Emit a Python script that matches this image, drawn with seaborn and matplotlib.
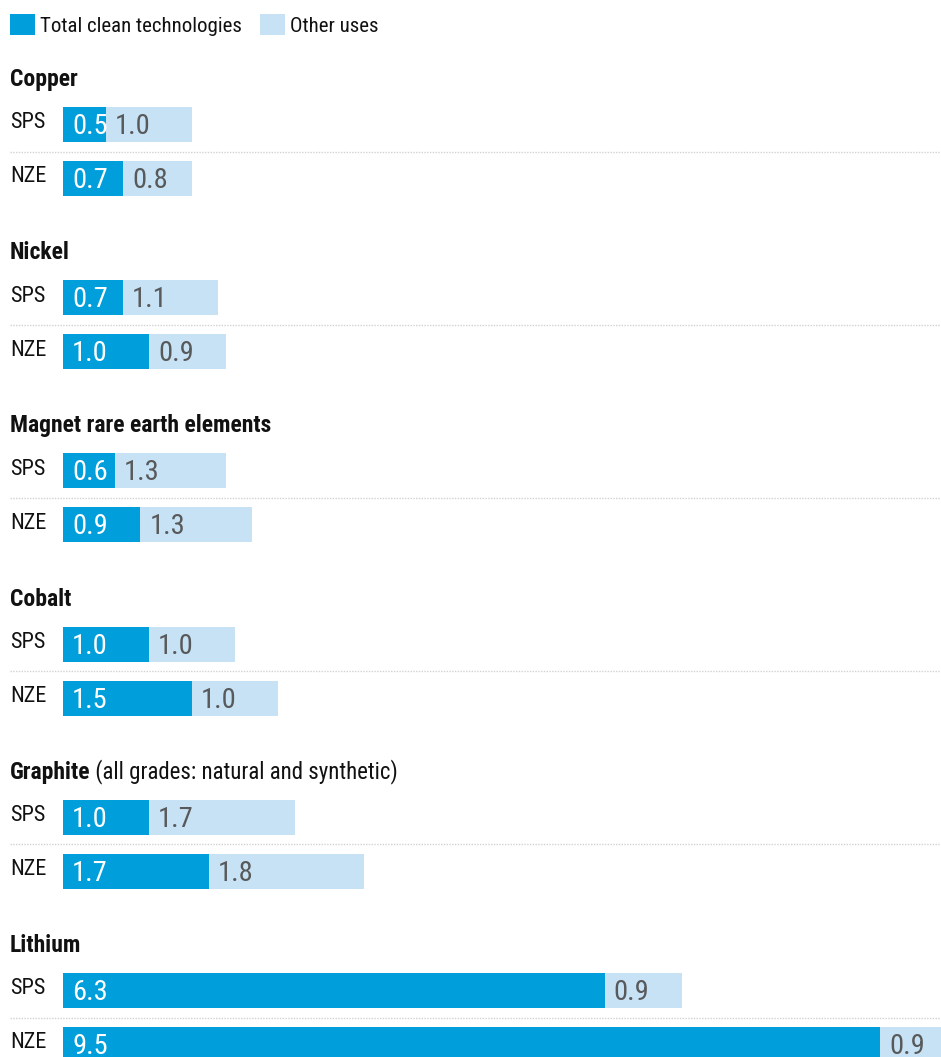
import numpy as np
import pandas as pd
import matplotlib
matplotlib.use("Agg")
import matplotlib.pyplot as plt
import matplotlib.transforms as mtransforms
from matplotlib import font_manager as fm
from matplotlib.patches import Patch
import seaborn as sns

# ---------------- data ----------------
minerals = ["Copper", "Nickel", "Magnet rare earth elements", "Cobalt", "Graphite", "Lithium"]
mineral_notes = ["", "", "", "", " (all grades: natural and synthetic)", ""]
scenarios = ["SPS", "NZE"]
clean_sps = [0.5, 0.7, 0.6, 1.0, 1.0, 6.3]
other_sps = [1.0, 1.1, 1.3, 1.0, 1.7, 0.9]
clean_nze = [0.7, 1.0, 0.9, 1.5, 1.7, 9.5]
other_nze = [0.8, 0.9, 1.3, 1.0, 1.8, 0.9]
legend_labels = ["Total clean technologies", "Other uses"]

# ---------------- style ----------------
DARK = "#009FDB"
LIGHT = "#C6E2F4"
VAL_GREY = "#58595B"
TXT = "#111111"
SEP = "#D2D2D2"

W, H, DPI = 941, 1057, 100
sns.set_theme(style="white")

# pick a narrow / condensed font if one is installed
ttf = fm.fontManager.ttflist
fam_names = {f.name for f in ttf}
FONT = None
STRETCH = "normal"
for cand in ["Liberation Sans Narrow", "Roboto Condensed", "Arial Narrow",
             "Open Sans Condensed", "Noto Sans Condensed", "Noto Sans SemiCondensed"]:
    if cand in fam_names:
        FONT = cand
        break
if FONT is None:
    narrow = sorted({f.name for f in ttf if ("Narrow" in f.name or "Condensed" in f.name)})
    if narrow:
        FONT = narrow[0]
if FONT is None:
    cond = [f for f in ttf if f.stretch in ("condensed", "semi-condensed", "extra-condensed")]
    if cond:
        FONT = cond[0].name
        STRETCH = cond[0].stretch
    else:
        FONT = "DejaVu Sans"

plt.rcParams["font.family"] = [FONT, "DejaVu Sans"]
plt.rcParams["font.stretch"] = STRETCH

fig = plt.figure(figsize=(W / DPI, H / DPI), dpi=DPI)
fig.patch.set_facecolor("white")

x0 = 63            # left edge of bars (px)
px_per_unit = 86   # horizontal scale (px per unit)
sec_period = 173.2
first_center = 124.5
pitch = 54
bar_frac = 35 / 54

VAL_FS = 20.5
LAB_FS = 16
TITLE_FS = 17
NOTE_FS = 16.5
LEG_FS = 15


def fy(y):
    return 1 - y / H


title_texts = []
for i, m in enumerate(minerals):
    c_sps = first_center + sec_period * i
    top = c_sps - pitch / 2
    ax = fig.add_axes([x0 / W, fy(top + 2 * pitch), (W - x0) / W, 2 * pitch / H])
    df = pd.DataFrame({
        "scenario": scenarios,
        "clean": [clean_sps[i], clean_nze[i]],
        "other": [other_sps[i], other_nze[i]],
    })
    df["total"] = df["clean"] + df["other"]
    sns.barplot(data=df, x="total", y="scenario", color=LIGHT, width=bar_frac,
                errorbar=None, saturation=1, ax=ax, linewidth=0)
    sns.barplot(data=df, x="clean", y="scenario", color=DARK, width=bar_frac,
                errorbar=None, saturation=1, ax=ax, linewidth=0)
    ax.set_xlim(0, (W - x0) / px_per_unit)
    ax.set_ylim(1.5, -0.5)
    ax.axis("off")

    tr_val = mtransforms.offset_copy(ax.transData, fig=fig, x=9, y=-9.5, units="dots")
    for j, row in df.iterrows():
        ax.text(0, j, f"{row['clean']:.1f}", transform=tr_val, color="white",
                fontsize=VAL_FS, va="baseline", ha="left", clip_on=False)
        ax.text(row["clean"], j, f"{row['other']:.1f}", transform=tr_val, color=VAL_GREY,
                fontsize=VAL_FS, va="baseline", ha="left", clip_on=False)

    blend = mtransforms.blended_transform_factory(fig.transFigure, ax.transData)
    tr_lab = mtransforms.offset_copy(blend, fig=fig, x=0, y=-4, units="dots")
    for j, s in enumerate(scenarios):
        ax.text(10 / W, j, s, transform=tr_lab, color=TXT, fontsize=LAB_FS,
                va="baseline", ha="left", clip_on=False)

    ax.plot([10 / W, 1.0], [0.5, 0.5], transform=blend, color=SEP, lw=1.0,
            linestyle=(0, (1, 1)), clip_on=False)

    t = fig.text(10 / W, fy(top - 11.5), m, fontsize=TITLE_FS, fontweight="bold",
                 color=TXT, va="baseline", ha="left")
    title_texts.append(t)

# legend
handles = [Patch(facecolor=DARK, edgecolor="none"), Patch(facecolor=LIGHT, edgecolor="none")]
fig.legend(handles, legend_labels, loc="upper left", bbox_to_anchor=(10 / W, fy(14)),
           ncol=2, frameon=False, fontsize=LEG_FS, handlelength=1.2, handleheight=1.2,
           handletextpad=0.25, columnspacing=0.85, borderpad=0, borderaxespad=0,
           labelcolor=TXT)

# notes after bold titles
fig.canvas.draw()
renderer = fig.canvas.get_renderer()
for t, note in zip(title_texts, mineral_notes):
    if note:
        ext = t.get_window_extent(renderer)
        fig.text(ext.x1 / W, t.get_position()[1], note, fontsize=NOTE_FS, color=TXT,
                 va="baseline", ha="left")

fig.savefig("out.png", dpi=DPI)
